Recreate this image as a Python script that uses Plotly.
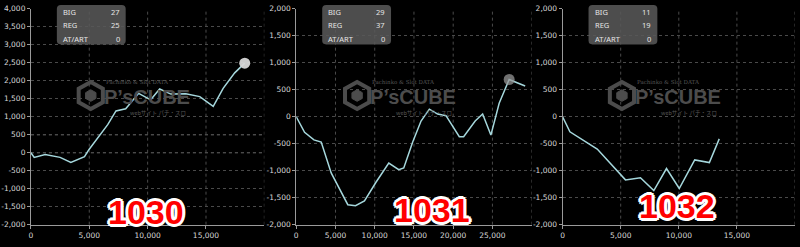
import plotly.graph_objects as go

# ---------------- data ----------------
machine_ids = ["1030", "1031", "1032"]

games_1030 = [0, 280, 1220, 2500, 3420, 4590, 4980, 6070, 6580, 7290, 8120, 9230, 10260,
              11030, 11990, 13270, 14470, 15620, 16470, 17460, 18320]
diff_1030 = [0, -130, -50, -130, -270, -110, 90, 560, 780, 1160, 1220, 1650, 1470,
             1770, 1630, 1640, 1560, 1290, 1790, 2220, 2490]

games_1031 = [0, 1060, 2250, 3180, 4450, 6570, 7550, 8690, 10180, 11790, 13060, 13700,
              14840, 15900, 16960, 18020, 19080, 20780, 21330, 22800, 23750, 24800, 25860,
              27130, 29170]
diff_1031 = [0, -290, -430, -470, -1040, -1630, -1650, -1560, -1210, -860, -980, -950,
             -470, -80, 140, 50, 20, -370, -370, -80, 50, -340, 250, 690, 570]

games_1032 = [0, 630, 2980, 5410, 6700, 7850, 8940, 10040, 11370, 12630, 13480]
diff_1032 = [0, -280, -600, -1170, -1130, -1370, -960, -1330, -800, -850, -410]

big_counts = [27, 29, 11]
reg_counts = [25, 37, 19]
at_counts = [0, 0, 0]
stat_labels = ["BIG", "REG", "AT/ART"]

peak_index = [-1, 23, None]           # highlighted point per chart
y_ranges = [(-2000, 4000), (-2000, 2000), (-2000, 2000)]
x_ranges = [(0, 20000), (0, 30000), (0, 20000)]
ref_lines_1030 = [0, 500]

games = [games_1030, games_1031, games_1032]
diffs = [diff_1030, diff_1031, diff_1032]

# ---------------- layout helpers ----------------
W, H = 800, 247
def px(x):
    return x / W
def py(y):
    return 1 - y / H

x_dom_px = [(29, 263), (295, 531), (562, 795)]
y_dom = [py(229), py(5)]
label_pos = [(144, 216), (431, 214), (677, 210)]
marker_colors = ["rgba(215,215,215,0.95)", "rgba(150,150,150,0.75)", "rgba(150,150,150,0.75)"]

LINE = "rgb(165,215,220)"
GRID = "#4a4a4a"
AX = "#9a9a9a"
TICKF = dict(family="DejaVu Sans", size=7.5, color="#d8d8d8")

fig = go.Figure()
shapes = []
annotations = []

for i in range(3):
    ax = "" if i == 0 else str(i + 1)
    xa, ya = "x" + ax, "y" + ax
    fig.add_trace(go.Scatter(x=games[i], y=diffs[i], mode="lines",
                             line=dict(color=LINE, width=1.5),
                             xaxis=xa, yaxis=ya, showlegend=False, hoverinfo="skip"))
    if peak_index[i] is not None:
        k = peak_index[i]
        fig.add_trace(go.Scatter(x=[games[i][k]], y=[diffs[i][k]], mode="markers",
                                 marker=dict(size=11, color=marker_colors[i]),
                                 xaxis=xa, yaxis=ya, showlegend=False, hoverinfo="skip"))

    y0, y1 = y_ranges[i]
    yt = list(range(y0, y1 + 1, 500))
    x0, x1 = x_ranges[i]
    xt = list(range(x0, x1 + 1, 5000))
    d0, d1 = x_dom_px[i]
    fig.update_layout(**{
        "xaxis" + ax: dict(domain=[px(d0), px(d1)], range=[x0, x1], anchor=ya,
                           tickvals=xt[:-1] if i != 0 else xt[:-1],
                           ticktext=[f"{v:,}" for v in xt[:-1]],
                           showgrid=False, zeroline=False,
                           showline=True, linecolor=AX, linewidth=1,
                           ticks="outside", ticklen=3, tickcolor=AX, tickfont=TICKF),
        "yaxis" + ax: dict(domain=y_dom, range=[y0, y1], anchor=xa,
                           tickvals=yt, ticktext=[f"{v:,}" for v in yt],
                           showgrid=True, gridcolor=GRID, griddash="dot", gridwidth=1,
                           zeroline=False, showline=True, linecolor=AX, linewidth=1,
                           ticks="outside", ticklen=3, tickcolor=AX, tickfont=TICKF),
    })
    # vertical dotted grid lines (including right edge)
    for v in xt[1:]:
        shapes.append(dict(type="line", xref=xa, yref="paper", x0=v, x1=v,
                           y0=y_dom[0], y1=y_dom[1], layer="below",
                           line=dict(color=GRID, width=1, dash="dot")))

    # stats box
    bx0, bx1, by0, by1, r = d0 + 26, d0 + 95, 1, 42, 4
    path = (f"M {px(bx0+r)},{py(by0)} L {px(bx1-r)},{py(by0)} Q {px(bx1)},{py(by0)} {px(bx1)},{py(by0+r)} "
            f"L {px(bx1)},{py(by1-r)} Q {px(bx1)},{py(by1)} {px(bx1-r)},{py(by1)} "
            f"L {px(bx0+r)},{py(by1)} Q {px(bx0)},{py(by1)} {px(bx0)},{py(by1-r)} "
            f"L {px(bx0)},{py(by0+r)} Q {px(bx0)},{py(by0)} {px(bx0+r)},{py(by0)} Z")
    shapes.append(dict(type="path", xref="paper", yref="paper", path=path,
                       fillcolor="rgba(88,88,88,0.88)", line=dict(width=0), layer="above"))
    vals = [big_counts[i], reg_counts[i], at_counts[i]]
    for j, (lab, v) in enumerate(zip(stat_labels, vals)):
        yy = py(8 + j * 14)
        annotations.append(dict(text=lab, x=px(bx0 + 4), y=yy, xref="paper", yref="paper",
                                xanchor="left", yanchor="middle", showarrow=False,
                                font=dict(family="Noto Sans", size=7.5, color="#e6e6e6")))
        annotations.append(dict(text=str(v), x=px(bx1 - 4), y=yy, xref="paper", yref="paper",
                                xanchor="right", yanchor="middle", showarrow=False,
                                font=dict(family="Noto Sans", size=7.5, color="#e6e6e6")))

    # watermark
    cx = (d0 + d1) / 2 - 15
    wy = 95
    icx, icy, R = cx - 42, wy, 14
    import math
    pts = [(icx + R * math.cos(math.radians(90 + 60 * k)), icy - R * math.sin(math.radians(90 + 60 * k))) for k in range(6)]
    hp = "M " + " L ".join(f"{px(a)},{py(b)}" for a, b in pts) + " Z"
    shapes.append(dict(type="path", xref="paper", yref="paper", path=hp,
                       line=dict(color="#4c4c4c", width=4), layer="above"))
    r2 = 6
    pts2 = [(icx + r2 * math.cos(math.radians(90 + 60 * k)), icy - r2 * math.sin(math.radians(90 + 60 * k))) for k in range(6)]
    hp2 = "M " + " L ".join(f"{px(a)},{py(b)}" for a, b in pts2) + " Z"
    shapes.append(dict(type="path", xref="paper", yref="paper", path=hp2,
                       fillcolor="#4c4c4c", line=dict(color="#4c4c4c", width=1), layer="above"))
    annotations.append(dict(text="<b>P’sCUBE</b>", x=px(cx + 14), y=py(wy + 1), xref="paper", yref="paper",
                            xanchor="center", yanchor="middle", showarrow=False,
                            font=dict(family="Liberation Sans", size=20, color="#4c4c4c")))
    annotations.append(dict(text="Pachinko & Slot DATA", x=px(cx + 5), y=py(wy - 14), xref="paper", yref="paper",
                            xanchor="center", yanchor="middle", showarrow=False,
                            font=dict(family="DejaVu Serif", size=5.5, color="#555555")))
    annotations.append(dict(text="webサイト パチ・スロ", x=px(cx + 25), y=py(wy + 18), xref="paper", yref="paper",
                            xanchor="center", yanchor="middle", showarrow=False,
                            font=dict(family="Noto Sans CJK JP", size=5.5, color="#555555")))

    # big machine number label
    lx, ly = label_pos[i]
    sh = ", ".join(f"{a}px {b}px 0 #ffffff" for a, b in
                   [(-2, -2), (2, -2), (-2, 2), (2, 2), (0, 2), (0, -2), (2, 0), (-2, 0),
                    (0, 3), (0, -3), (3, 0), (-3, 0)])
    annotations.append(dict(text="<b>" + machine_ids[i] + "</b>", x=px(lx), y=py(ly),
                            xref="paper", yref="paper", xanchor="center", yanchor="middle",
                            showarrow=False,
                            font=dict(family="Liberation Sans", size=34, color="#ff0000", shadow=sh)))

for v in ref_lines_1030:
    shapes.append(dict(type="line", xref="x domain", yref="y", x0=0, x1=1, y0=v, y1=v,
                       layer="below", line=dict(color="#9a9a9a", width=1, dash="dot")))

fig.update_layout(width=W, height=H, margin=dict(l=0, r=0, t=0, b=0),
                  paper_bgcolor="black", plot_bgcolor="black",
                  shapes=shapes, annotations=annotations)

fig.write_html("out.html")
